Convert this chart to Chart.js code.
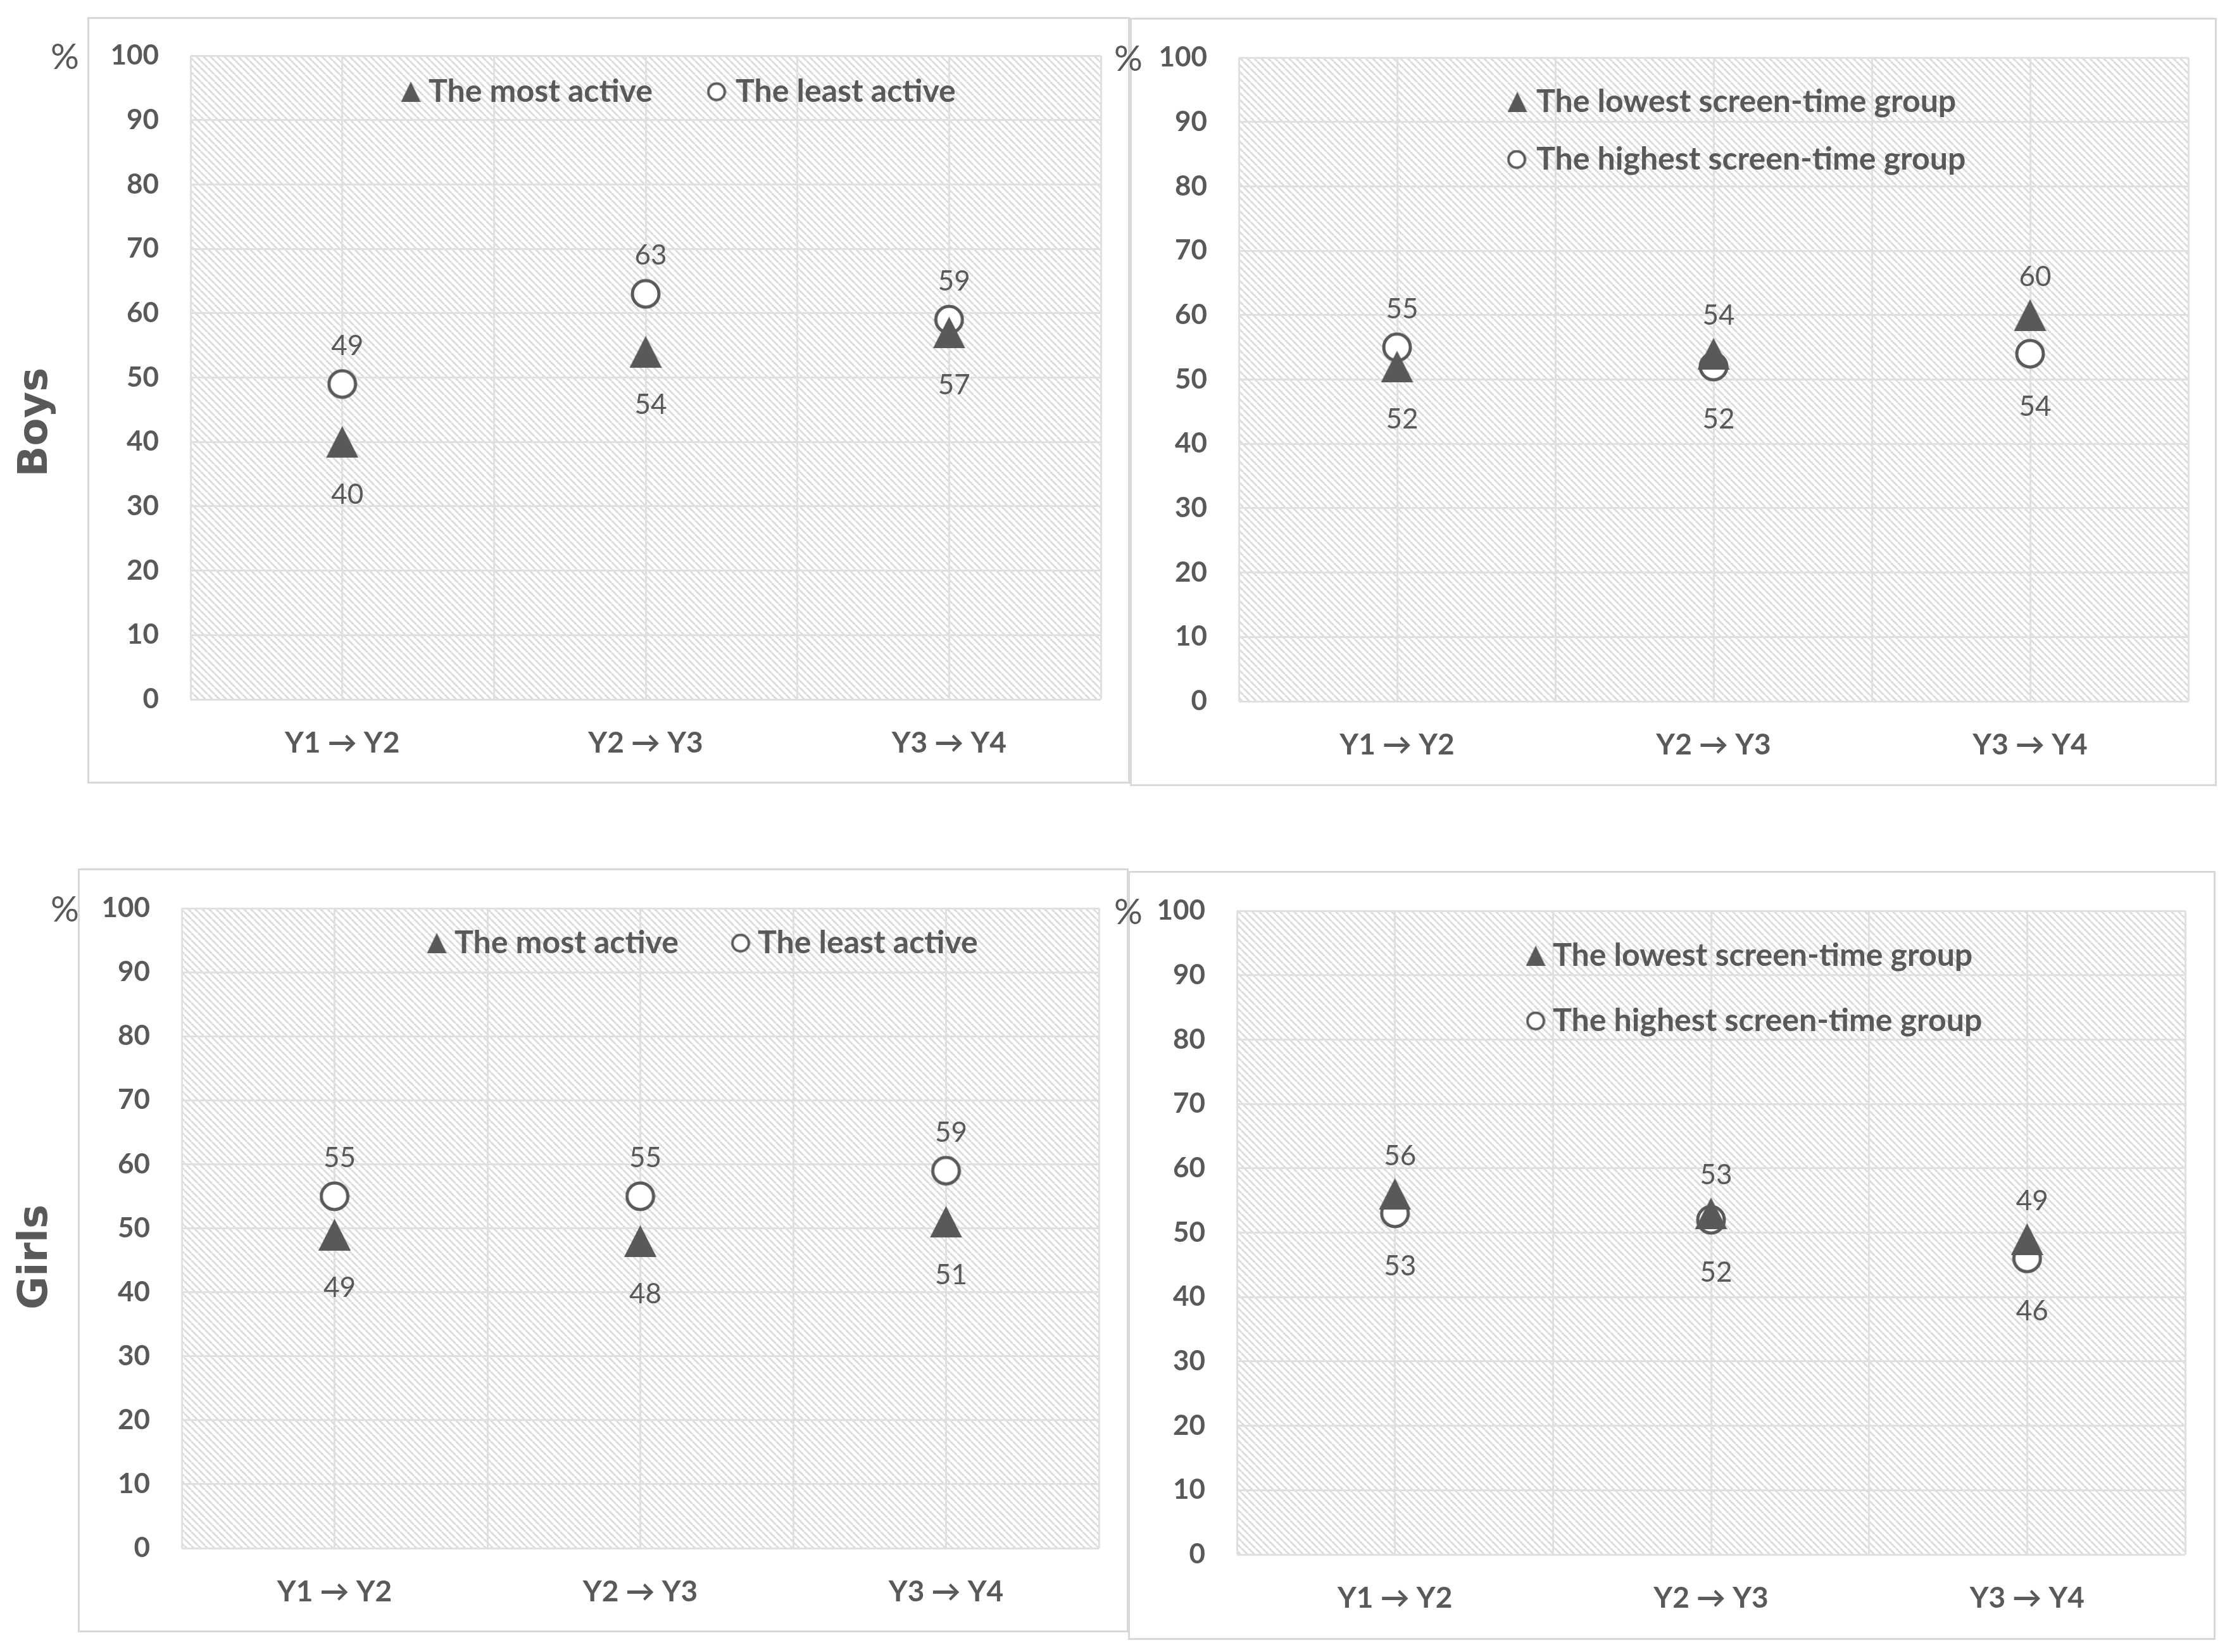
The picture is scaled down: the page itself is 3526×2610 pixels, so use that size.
<!DOCTYPE html>
<html>
<head>
<meta charset="utf-8">
<script src="https://cdn.jsdelivr.net/npm/chart.js@4.4.1/dist/chart.umd.min.js"></script>
<style>
  body { margin: 0; background: #fff; }
  #page { position: relative; width: 3526px; height: 2610px; background: #fff; overflow: hidden; }
  .panel { position: absolute; border: 3px solid #d9d9d9; box-sizing: border-box; }
  .panel canvas { position: absolute; left: 0; top: 0; }
  .pct { position: absolute; font: 56px Lato, sans-serif; color: #595959; transform: translateY(-50%); line-height: 1; }
  .side { position: absolute; font: bold 64px "DejaVu Sans", sans-serif; color: #595959; line-height: 1;
          transform: translate(-50%, -50%) rotate(-90deg); white-space: nowrap; }
</style>
</head>
<body>
<div id="page">
  <div class="side" style="left:52px; top:667px;">Boys</div>
  <div class="side" style="left:52px; top:1986px;">Girls</div>
</div>
<script>
// categories and values
const periods = ['Y1 → Y2', 'Y2 → Y3', 'Y3 → Y4'];
const activityLabels = ['The most active', 'The least active'];
const screenLabels = ['The lowest screen-time group', 'The highest screen-time group'];

const boysMostActive = [40, 54, 57];
const boysLeastActive = [49, 63, 59];
const boysLowScreen = [52, 54, 60];
const boysHighScreen = [55, 52, 54];

const girlsMostActive = [49, 48, 51];
const girlsLeastActive = [55, 55, 59];
const girlsLowScreen = [56, 53, 49];
const girlsHighScreen = [53, 52, 46];

const yMin = 0, yMax = 100, yStep = 10;

const grey = '#595959';

// page layout: panel border box, plot area, legend spots [markerX, y, textX], "%" spot
const panels = [
  { box: [138, 27, 1785, 1238], plot: [301, 88, 1739, 1105],
    series: [boysMostActive, boysLeastActive], names: activityLabels,
    legend: [[649, 145, 677], [1132, 145, 1162]], pct: [80, 88] },
  { box: [1785, 28, 3502, 1242], plot: [1957, 91, 3457, 1108],
    series: [boysLowScreen, boysHighScreen], names: screenLabels,
    legend: [[2397, 161, 2427], [2396, 252, 2427]], pct: [1760, 91] },
  { box: [123, 1372, 1783, 2579], plot: [287, 1435, 1736, 2446],
    series: [girlsMostActive, girlsLeastActive], names: activityLabels,
    legend: [[690, 1490, 718], [1170, 1490, 1197]], pct: [80, 1435] },
  { box: [1782, 1376, 3500, 2591], plot: [1954, 1439, 3452, 2456],
    series: [girlsLowScreen, girlsHighScreen], names: screenLabels,
    legend: [[2426, 1510, 2453], [2426, 1613, 2453]], pct: [1760, 1439] }
];

function triImg(w, h) {
  const c = document.createElement('canvas');
  c.width = w; c.height = h;
  const g = c.getContext('2d');
  g.fillStyle = grey;
  g.beginPath();
  g.moveTo(w / 2, 0);
  g.lineTo(w, h);
  g.lineTo(0, h);
  g.closePath();
  g.fill();
  return c;
}

function ringImg(d, lw) {
  const c = document.createElement('canvas');
  c.width = d; c.height = d;
  const g = c.getContext('2d');
  g.beginPath();
  g.arc(d / 2, d / 2, d / 2 - lw / 2 - 0.5, 0, Math.PI * 2);
  g.fillStyle = '#ffffff';
  g.fill();
  g.lineWidth = lw;
  g.strokeStyle = grey;
  g.stroke();
  return c;
}

function hatchTile() {
  const s = 11;
  const c = document.createElement('canvas');
  c.width = s; c.height = s;
  const g = c.getContext('2d');
  g.fillStyle = '#ffffff';
  g.fillRect(0, 0, s, s);
  g.strokeStyle = '#dcdcdc';
  g.lineWidth = 3;
  for (let k = -1; k <= 1; k++) {
    g.beginPath();
    g.moveTo(k * s, 0);
    g.lineTo(k * s + s, s);
    g.stroke();
  }
  return c;
}

const bigTri = triImg(51, 50);
const bigRing = ringImg(48, 5);
const smallTri = triImg(31, 32);
const smallRing = ringImg(31, 4);
const tile = hatchTile();

const hatchBg = {
  id: 'hatchBg',
  beforeDraw(chart) {
    const { ctx, chartArea: a } = chart;
    ctx.save();
    ctx.fillStyle = '#ffffff';
    ctx.fillRect(0, 0, chart.width, chart.height);
    ctx.fillStyle = ctx.createPattern(tile, 'repeat');
    ctx.fillRect(a.left, a.top, a.right - a.left, a.bottom - a.top);
    ctx.restore();
  }
};

const valueLabels = {
  id: 'valueLabels',
  afterDatasetsDraw(chart) {
    const ctx = chart.ctx;
    const sets = chart.data.datasets;
    ctx.save();
    ctx.font = '44px Lato';
    ctx.fillStyle = grey;
    ctx.textAlign = 'center';
    ctx.textBaseline = 'middle';
    sets.forEach((ds, i) => {
      const other = sets[1 - i];
      chart.getDatasetMeta(i).data.forEach((pt, j) => {
        const v = ds.data[j].y;
        const above = v >= other.data[j].y;
        ctx.fillText(String(v), pt.x + 8, pt.y + (above ? -60 : 84));
      });
    });
    ctx.restore();
  }
};

const markerLegend = {
  id: 'markerLegend',
  afterDraw(chart, args, opts) {
    const ctx = chart.ctx;
    ctx.save();
    ctx.font = 'bold 50px Lato';
    ctx.fillStyle = grey;
    ctx.textAlign = 'left';
    ctx.textBaseline = 'middle';
    chart.data.datasets.forEach((ds, i) => {
      const [mx, my, tx] = opts.spots[i];
      const img = i === 0 ? smallTri : smallRing;
      ctx.drawImage(img, mx - img.width / 2, my - img.height / 2);
      ctx.fillText(ds.label, tx, my);
    });
    ctx.restore();
  }
};

Chart.defaults.font.family = 'Lato';
Chart.defaults.color = grey;

const page = document.getElementById('page');

panels.forEach(p => {
  const [bx, by, bx2, by2] = p.box;
  const [px, py, px2, py2] = p.plot;
  const div = document.createElement('div');
  div.className = 'panel';
  div.style.left = bx + 'px';
  div.style.top = by + 'px';
  div.style.width = (bx2 - bx) + 'px';
  div.style.height = (by2 - by) + 'px';
  const canvas = document.createElement('canvas');
  const cx = bx + 3, cy = by + 3;
  const cw = bx2 - bx - 6, ch = by2 - by - 6;
  canvas.width = cw;
  canvas.height = ch;
  canvas.style.width = cw + 'px';
  canvas.style.height = ch + 'px';
  div.appendChild(canvas);
  page.appendChild(div);

  const pct = document.createElement('div');
  pct.className = 'pct';
  pct.textContent = '%';
  pct.style.left = p.pct[0] + 'px';
  pct.style.top = p.pct[1] + 'px';
  page.appendChild(pct);

  const spots = p.legend.map(s => [s[0] - cx, s[1] - cy, s[2] - cx]);

  new Chart(canvas, {
    type: 'scatter',
    data: {
      datasets: [{
        label: p.names[0],
        data: p.series[0].map((v, i) => ({ x: i, y: v })),
        pointStyle: bigTri,
        pointRadius: 20,
        pointHoverRadius: 20
      }, {
        label: p.names[1],
        data: p.series[1].map((v, i) => ({ x: i, y: v })),
        pointStyle: bigRing,
        pointRadius: 20,
        pointHoverRadius: 20
      }]
    },
    options: {
      responsive: false,
      animation: false,
      devicePixelRatio: 1,
      layout: {
        autoPadding: false,
        padding: { top: py - cy, right: cx + cw - px2, left: 0, bottom: 0 }
      },
      plugins: {
        legend: { display: false },
        tooltip: { enabled: false },
        markerLegend: { spots: spots }
      },
      scales: {
        x: {
          type: 'linear',
          min: -0.5,
          max: periods.length - 0.5,
          afterFit(scale) { scale.height = cy + ch - py2; },
          // the gap under the plot comes from an invisible tick mark, not label padding
          grid: { color: '#e0e0e0', lineWidth: 3, drawTicks: true, tickLength: 42, tickColor: 'rgba(0,0,0,0)' },
          border: { display: false },
          ticks: {
            stepSize: 0.5,
            autoSkip: false,
            maxRotation: 0,
            padding: 0,
            font: { size: 46, weight: 'bold' },
            callback: v => Number.isInteger(v) ? periods[v] : ''
          }
        },
        y: {
          min: yMin,
          max: yMax,
          afterFit(scale) { scale.width = px - cx; },
          grid: { color: '#e0e0e0', lineWidth: 3, drawTicks: true, tickLength: 50, tickColor: 'rgba(0,0,0,0)' },
          border: { display: false },
          ticks: {
            stepSize: yStep,
            padding: 0,
            font: { size: 44, weight: 'bold' }
          }
        }
      }
    },
    plugins: [hatchBg, valueLabels, markerLegend]
  });
});
</script>
</body>
</html>
